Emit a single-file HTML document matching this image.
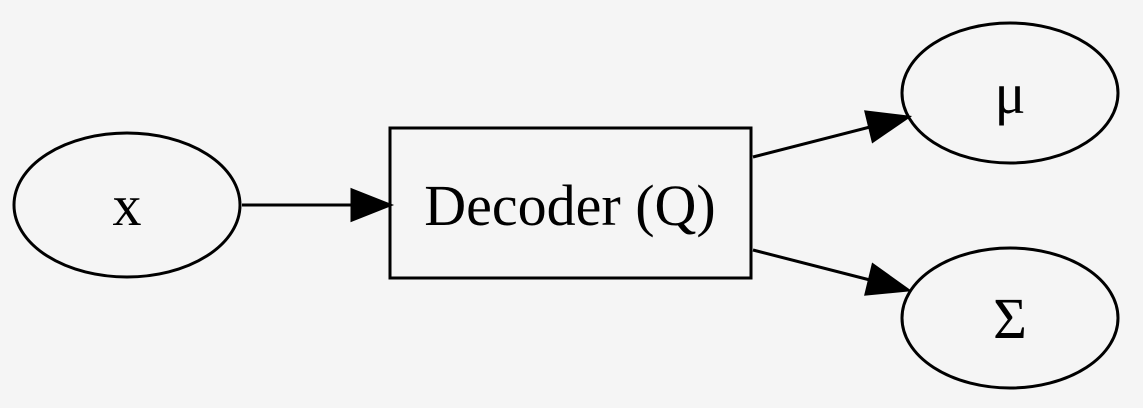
<!DOCTYPE html>
<html><head><meta charset="utf-8"><style>
html,body{margin:0;padding:0;background:#f5f5f5;}
svg{display:block;}
text{font-family:"Liberation Serif","DejaVu Serif",serif;font-size:58px;fill:#000;}
</style></head><body>
<svg width="1143" height="408" viewBox="0 0 1143 408">
<rect width="1143" height="408" fill="#f5f5f5"/>
<g fill="none" stroke="#000" stroke-width="3">
<ellipse cx="127" cy="205" rx="113" ry="72"/>
<rect x="390" y="128" width="361" height="150"/>
<ellipse cx="1010" cy="93" rx="108" ry="70"/>
<ellipse cx="1010" cy="318" rx="108" ry="70"/>
<line x1="242" y1="205" x2="352" y2="205"/>
<line x1="753" y1="157" x2="870" y2="127"/>
<line x1="753" y1="250" x2="870" y2="280"/>
</g>
<g fill="#000" stroke="#000" stroke-width="3">
<polygon points="352,190 390,205 352,220"/>
<polygon points="866,112 908,117 873,141"/>
<polygon points="873,265 908,290 866,294"/>
</g>
<text x="127" y="225" text-anchor="middle">x</text>
<text x="570" y="225" text-anchor="middle">Decoder (Q)</text>
<text x="1010" y="113" text-anchor="middle">μ</text>
<text x="1010" y="338" text-anchor="middle">Σ</text>
</svg>
</body></html>
